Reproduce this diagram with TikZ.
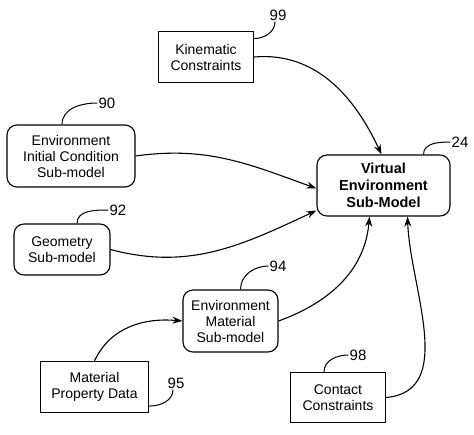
\documentclass[tikz,border=0pt]{standalone}
\usepackage{fontspec}
\setmainfont{Liberation Sans}
\usetikzlibrary{arrows.meta}
\begin{document}
\begin{tikzpicture}[x=1pt,y=-1pt,
  box/.style={draw,line width=1.1pt,inner sep=0pt,align=center,font=\fontsize{14}{16}\selectfont},
  rbox/.style={box,rounded corners=10pt},
  num/.style={inner sep=1pt,font=\fontsize{15}{16}\selectfont},
  conn/.style={line width=1.1pt,-{Stealth[length=10pt,width=7pt]}},
  lead/.style={line width=1pt}]
\useasboundingbox (0,0) rectangle (474,434);
\node[box,minimum width=95pt,minimum height=51pt] (kin) at (206,57) {Kinematic\\Constraints};
\node[rbox,minimum width=133pt,minimum height=61pt,font=\fontsize{14.5}{17}\selectfont\bfseries] (ve) at (383.5,185.5) {Virtual\\Environment\\Sub-Model};
\node[rbox,minimum width=128pt,minimum height=62pt] (eic) at (71,156) {Environment\\Initial Condition\\Sub-model};
\node[rbox,minimum width=96pt,minimum height=51pt] (geo) at (62,249.5) {Geometry\\Sub-model};
\node[rbox,minimum width=95pt,minimum height=62pt] (em) at (230.5,321) {Environment\\Material\\Sub-model};
\node[box,minimum width=108pt,minimum height=51pt] (mpd) at (94.5,387) {Material\\Property Data};
\node[box,minimum width=95pt,minimum height=50pt] (cc) at (338,397.5) {Contact\\Constraints};
% reference numbers
\node[num] (l99) at (278,15) {99};
\node[num] (l24) at (460,142) {24};
\node[num] (l90) at (107,103) {90};
\node[num] (l92) at (118,210) {92};
\node[num] (l94) at (278,266) {94};
\node[num] (l95) at (176,383) {95};
\node[num] (l98) at (358,355) {98};
% leaders
\draw[lead] (kin.21) to[out=0,in=-90] ([xshift=-3pt]l99.south);
\draw[lead] ([xshift=40pt]ve.north) to[out=90,in=180] (l24.west);
\draw[lead] ([xshift=-9pt]eic.north) to[out=90,in=180] (l90.west);
\draw[lead] ([xshift=15pt]geo.north) to[out=90,in=180] (l92.west);
\draw[lead] ([xshift=10pt]em.north) to[out=90,in=180] (l94.west);
\draw[lead] ([yshift=7pt]mpd.south east) to[out=0,in=-90] ([xshift=-3pt]l95.south);
\draw[lead] ([xshift=-14pt]cc.north) to[out=90,in=180] (l98.west);
% connectors
\draw[conn] (kin.east) to[out=5,in=115] ([xshift=-2pt]ve.north);
\draw[conn] (eic.east) to[out=8,in=160] ([yshift=-3pt]ve.west);
\draw[conn] (geo.east) to[out=-15,in=205] ([yshift=-25pt]ve.west);
\draw[conn] (em.east) to[out=20,in=-95] ([xshift=-14pt]ve.south);
\draw[conn] (mpd.north) to[out=65,in=175] (em.west);
\draw[conn] (cc.east) to[out=5,in=-88] ([xshift=24pt]ve.south);
\end{tikzpicture}
\end{document}
